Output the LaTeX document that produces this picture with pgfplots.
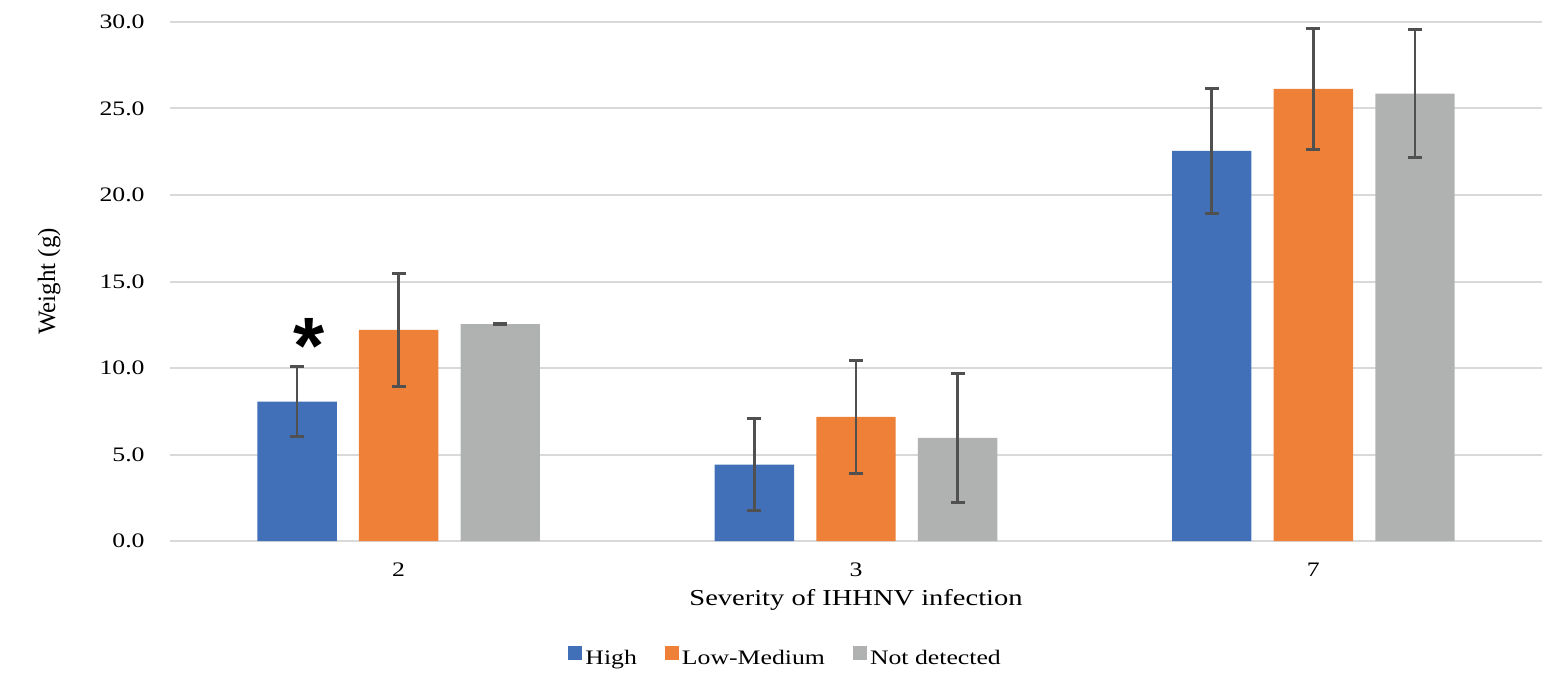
\documentclass[border=0pt]{standalone}
\usepackage{fontspec}
\setmainfont{Liberation Serif}[FakeStretch=1.25]
\newfontfamily\plainserif{Liberation Serif}
\setsansfont{Liberation Sans}
\usepackage{pgfplots}
\pgfplotsset{compat=1.18}

\definecolor{cHigh}{RGB}{65,112,185}
\definecolor{cLow}{RGB}{239,128,56}
\definecolor{cNone}{RGB}{176,178,178}
\definecolor{cGrid}{RGB}{217,217,217}
\definecolor{cErr}{RGB}{80,80,80}

\pgfplotsset{
  errbar/.style={
    error bars/.cd, y dir=both, y explicit,
    error bar style={cErr, line width=1.4pt},
    error mark options={rotate=90, mark size=3.5pt, line width=1.4pt, cErr},
  },
}

\begin{document}
\begin{tikzpicture}
\begin{axis}[
    scale only axis,
    width=686pt, height=259.5pt,
    ybar, bar width=39.7pt,
    xmin=-0.5, xmax=2.5,
    ymin=0, ymax=30,
    xtick=data, xticklabels={2,3,7},
    ytick={0,5,...,30},
    font=\fontsize{10.3}{12}\selectfont,
    /pgf/number format/fixed,
    /pgf/number format/fixed zerofill,
    /pgf/number format/precision=1,
    /pgf/number format/assume math mode=true,
    axis line style={draw=none},
    major tick length=0pt,
    ymajorgrids, grid style={cGrid, line width=1pt},
    xticklabel style={anchor=base, yshift=-17.5pt},
    yticklabel style={anchor=east, inner sep=0pt, xshift=-12.5pt},
    xlabel={Severity of IHHNV infection},
    ylabel={Weight (g)},
    xlabel style={at={(axis description cs:0.5,0)}, anchor=base, yshift=-32pt,
        font=\fontsize{11.4}{13}\selectfont},
    ylabel style={at={(axis description cs:-0.088,0.5)}, anchor=center,
        font=\plainserif\fontsize{12.5}{14}\selectfont},
    legend columns=3,
    legend style={at={(rel axis cs:0.448,-0.2235)}, anchor=center, draw=none,
        column sep=1.5pt, /tikz/every even column/.append style={column sep=14pt},
        nodes={inner sep=0pt}},
    legend image code/.code={\fill[#1,draw=none] (0pt,-0.3pt) rectangle (7pt,6.4pt);},
    clip=false,
]
\addplot[fill=cHigh, draw=none, bar shift=-50.8pt, errbar] coordinates {
    (0,8.05) +- (0,2.03)
    (1,4.42) +- (0,2.65)
    (2,22.55) +- (0,3.6)
};
\addplot[fill=cLow, draw=none, bar shift=0pt, errbar] coordinates {
    (0,12.2) +- (0,3.25)
    (1,7.17) +- (0,3.27)
    (2,26.13) +- (0,3.5)
};
\addplot[fill=cNone, draw=none, bar shift=50.8pt, errbar] coordinates {
    (0,12.54) +- (0,0.04)
    (1,5.96) +- (0,3.73)
    (2,25.86) +- (0,3.69)
};
\legend{High,Low-Medium,Not detected}
\node[anchor=north, inner sep=0pt, font=\sffamily\bfseries\fontsize{40}{40}\selectfont]
    at (axis cs:-0.197,12.9) {*};
\path (rel axis cs:-0.1239,-0.2755) rectangle (rel axis cs:1.0182,1.0424);
\end{axis}
\end{tikzpicture}
\end{document}
